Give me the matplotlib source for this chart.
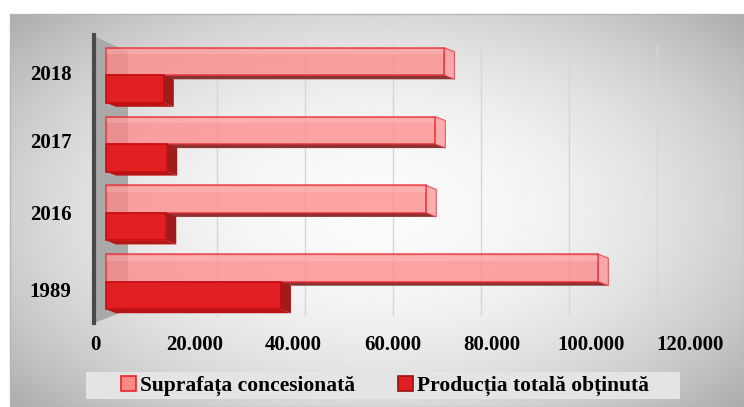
import numpy as np
import matplotlib
matplotlib.use('Agg')
import matplotlib.pyplot as plt
import matplotlib.transforms as mtransforms
from matplotlib.patches import Polygon, Rectangle, Patch
from matplotlib.ticker import FuncFormatter

# data (bottom -> top)
years = ['1989', '2016', '2017', '2018']
suprafata = [103000, 67000, 68900, 70800]
productie = [36600, 12600, 12800, 12100]
x_ticks = [0, 20000, 40000, 60000, 80000, 100000, 120000]
series_names = ['Suprafața concesionată', 'Producția totală obținută']

plt.rcParams['font.family'] = ['Liberation Serif', 'DejaVu Serif']
plt.rcParams['font.weight'] = 'bold'

W, H = 744, 407
fig = plt.figure(figsize=(W / 100, H / 100), dpi=100)
fig.patch.set_facecolor('white')


def px(x, y):
    # pixel position (from top-left) -> figure fraction
    return (x / W, 1 - y / H)


# grey radial background of the chart area
bg = fig.add_axes([0, 0, 1, 1], zorder=-10)
yy, xx = np.mgrid[-1:1:200j, -1:1:400j]
r = np.sqrt((xx / 1.0) ** 2 + (yy / 1.1) ** 2)
shade = 0.985 - 0.17 * np.clip(r, 0, 1.5) ** 2
x0f, y1f = px(10, 14)
bg.imshow(shade, cmap='gray', vmin=0, vmax=1, aspect='auto',
          extent=[x0f, 1, 0, y1f])
bg.add_patch(Rectangle((x0f, 0), 1 - x0f, y1f, fill=False, ec='#b5b5b5', lw=1))
bg.set_xlim(0, 1)
bg.set_ylim(0, 1)
bg.axis('off')

# main axes: value 0 at x=95px on the front floor, 4.96 px per 1000
zero_px, ppk = 95, 4.96
xmin, xmax = -300, 121000
ymin, ymax = -0.6, 3.6
left_px = zero_px + xmin / 1000 * ppk
right_px = zero_px + xmax / 1000 * ppk
top_px, bot_px = 34, 323
ax = fig.add_axes([left_px / W, 1 - bot_px / H, (right_px - left_px) / W, (bot_px - top_px) / H])
ax.set_xlim(xmin, xmax)
ax.set_ylim(ymin, ymax)
ax.patch.set_visible(False)
for s in ax.spines.values():
    s.set_visible(False)

# perspective: gridlines on the back wall, bars a little behind the floor front
back = mtransforms.Affine2D().translate(-zero_px, 0).scale(4.4 / ppk, 1).translate(129, 0)
mid = mtransforms.Affine2D().translate(-zero_px, 0).scale(4.78 / ppk, 1).translate(106, 0)
t_back = ax.transData + back
t_bar = ax.transData + mid

ax.vlines(x_ticks[1:], -0.5, 3.45, color='#d6d6d6', lw=1, transform=t_back, zorder=0.4)

# side wall
ax.add_patch(Polygon([px(94, 36), px(128, 52), px(128, 310), px(94, 323)], closed=True,
                     fc='#a9a9a9', ec='none', transform=fig.transFigure, clip_on=False, zorder=0.5))
ax.add_line(plt.Line2D([93.5 / W, 93.5 / W], [1 - 35 / H, 1 - 323 / H], color='#4a4a4a', lw=3,
                       transform=fig.transFigure, clip_on=False, zorder=0.6))

# 3D offset of the bar back faces
ppu_y = (bot_px - top_px) / (ymax - ymin)
dx = 10 / 4.78 * 1000
dy = -4 / ppu_y
h = 0.4

pink, pink_edge, pink_side, pink_bottom = '#ff8888', '#e8232b', '#ff8f8f', '#8c3434'
red, red_edge, red_side, red_bottom = '#e11f22', '#c40f12', '#a31a1a', '#b81414'

for i, (s_val, p_val) in enumerate(zip(suprafata, productie)):
    y = i
    # suprafata bar (upper)
    ax.add_patch(Polygon([(0, y), (s_val, y), (s_val + dx, y + dy), (dx, y + dy)],
                         fc=pink_bottom, ec='none', zorder=1, transform=t_bar))
    ax.barh(y + h / 2, s_val, height=h, color=pink, alpha=0.76, edgecolor=pink_edge, lw=1.2,
            zorder=2, transform=t_bar)
    ax.add_patch(Polygon([(s_val, y), (s_val, y + h), (s_val + dx, y + h + dy), (s_val + dx, y + dy)],
                         fc=pink_side, ec=pink_edge, lw=0.8, alpha=0.7, zorder=2, transform=t_bar))
    ax.barh(y + h * 0.86, s_val, height=h * 0.18, color='white', alpha=0.15, lw=0, zorder=2.1,
            transform=t_bar)
    # productie bar (lower)
    ax.add_patch(Polygon([(0, y - h), (p_val, y - h), (p_val + dx, y - h + dy), (dx, y - h + dy)],
                         fc=red_bottom, ec='none', zorder=3, transform=t_bar))
    ax.barh(y - h / 2, p_val, height=h, color=red, edgecolor=red_edge, lw=1.2, zorder=4,
            transform=t_bar)
    ax.add_patch(Polygon([(p_val, y - h), (p_val, y), (p_val + dx, y + dy), (p_val + dx, y - h + dy)],
                         fc=red_side, ec='none', zorder=4, transform=t_bar))

ax.set_xticks(x_ticks)
ax.xaxis.set_major_formatter(FuncFormatter(lambda v, _: f'{int(v):,}'.replace(',', '.')))
ax.set_yticks(range(len(years)), years)
ax.tick_params(axis='x', length=0, pad=9, labelsize=15, colors='black')
ax.tick_params(axis='y', length=0, pad=16, labelsize=15, colors='black')

# year labels follow the perspective a little (lower ones sit lower)
label_shift_px = [-8, 0, 4, 3]
for lab, shift in zip(ax.get_yticklabels(), label_shift_px):
    lab.set_transform(lab.get_transform() +
                      mtransforms.ScaledTranslation(0, shift / 100, fig.dpi_scale_trans))

# legend with its own light box
fig.patches.append(Rectangle(px(86, 399), 594 / W, 27 / H, transform=fig.transFigure,
                             fc='#e4e4e4', ec='none', zorder=0.5))
handles = [Patch(fc=pink, ec=pink_edge, lw=1.2), Patch(fc=red, ec='#9a1010', lw=1.2)]
fig.legend(handles, series_names, loc='center', bbox_to_anchor=px(385, 386), ncol=2,
           frameon=False, fontsize=15.5, handlelength=0.7, handleheight=0.7,
           handletextpad=0.2, columnspacing=2.0, borderpad=0)

fig.savefig('out.png', dpi=100)
